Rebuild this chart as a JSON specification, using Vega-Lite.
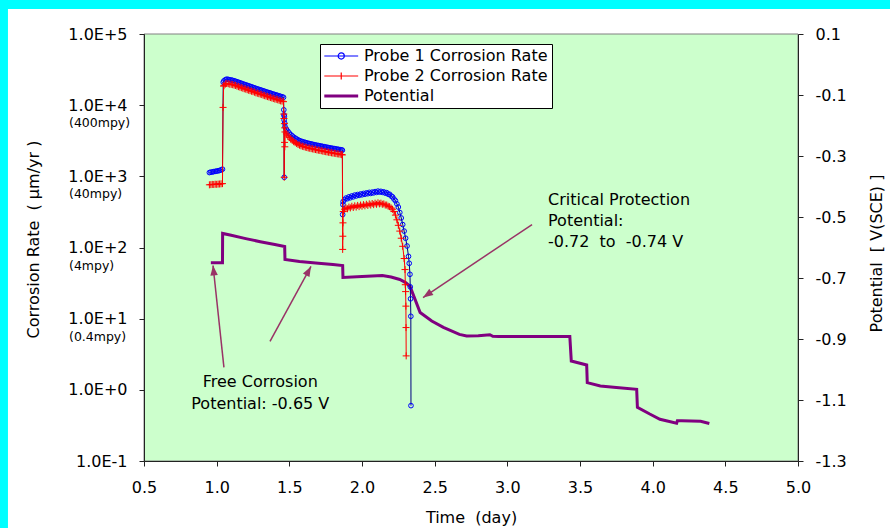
{
  "$schema": "https://vega.github.io/schema/vega-lite/v6.json",
  "width": 654,
  "height": 427,
  "autosize": "none",
  "padding": {"left": 144, "top": 34, "right": 92, "bottom": 67},
  "background": "#00ffff",
  "datasets": {
    "p1": [
      {"day":0.95,"rate":1130},{"day":0.96,"rate":1145},{"day":0.97,"rate":1150},{"day":0.98,"rate":1165},{"day":0.99,"rate":1175},{"day":1.00,"rate":1185},{"day":1.01,"rate":1195},{"day":1.02,"rate":1210},{"day":1.03,"rate":1230},{"day":1.04,"rate":1260},
      {"day":1.045,"rate":21000},{"day":1.05,"rate":22000},{"day":1.06,"rate":22800},{"day":1.07,"rate":23200},{"day":1.08,"rate":23000},{"day":1.09,"rate":22700},{"day":1.10,"rate":22600},{"day":1.11,"rate":22300},{"day":1.12,"rate":22000},{"day":1.13,"rate":21700},{"day":1.14,"rate":21300},{"day":1.15,"rate":21000},{"day":1.16,"rate":20600},{"day":1.17,"rate":20300},{"day":1.18,"rate":19900},{"day":1.19,"rate":19600},{"day":1.20,"rate":19300},{"day":1.21,"rate":19000},{"day":1.22,"rate":18700},{"day":1.23,"rate":18400},{"day":1.24,"rate":18100},{"day":1.25,"rate":17800},{"day":1.26,"rate":17500},{"day":1.27,"rate":17200},{"day":1.28,"rate":16900},{"day":1.29,"rate":16700},{"day":1.30,"rate":16400},{"day":1.31,"rate":16200},{"day":1.32,"rate":15900},{"day":1.33,"rate":15700},{"day":1.34,"rate":15400},{"day":1.35,"rate":15200},{"day":1.36,"rate":15000},{"day":1.37,"rate":14800},{"day":1.38,"rate":14500},{"day":1.39,"rate":14300},{"day":1.40,"rate":14100},{"day":1.41,"rate":13900},{"day":1.42,"rate":13700},{"day":1.43,"rate":13500},{"day":1.44,"rate":13300},{"day":1.45,"rate":13100},{"day":1.46,"rate":12900},
      {"day":1.462,"rate":8600},{"day":1.463,"rate":7300},{"day":1.464,"rate":6200},{"day":1.465,"rate":970},{"day":1.466,"rate":7000},{"day":1.468,"rate":5600},
      {"day":1.47,"rate":5000},{"day":1.48,"rate":4600},{"day":1.49,"rate":4300},{"day":1.50,"rate":4050},{"day":1.51,"rate":3850},{"day":1.52,"rate":3700},{"day":1.53,"rate":3550},{"day":1.54,"rate":3450},{"day":1.55,"rate":3350},{"day":1.56,"rate":3250},{"day":1.57,"rate":3180},{"day":1.58,"rate":3120},{"day":1.59,"rate":3070},{"day":1.60,"rate":3030},{"day":1.61,"rate":2990},{"day":1.62,"rate":2950},{"day":1.63,"rate":2910},{"day":1.64,"rate":2880},{"day":1.65,"rate":2850},{"day":1.66,"rate":2820},{"day":1.67,"rate":2790},{"day":1.68,"rate":2760},{"day":1.69,"rate":2730},{"day":1.70,"rate":2710},{"day":1.71,"rate":2680},{"day":1.72,"rate":2660},{"day":1.73,"rate":2630},{"day":1.74,"rate":2610},{"day":1.75,"rate":2580},{"day":1.76,"rate":2560},{"day":1.77,"rate":2530},{"day":1.78,"rate":2510},{"day":1.79,"rate":2490},{"day":1.80,"rate":2470},{"day":1.81,"rate":2450},{"day":1.82,"rate":2430},{"day":1.83,"rate":2410},{"day":1.84,"rate":2390},{"day":1.85,"rate":2370},{"day":1.86,"rate":2350},{"day":1.865,"rate":2330},
      {"day":1.867,"rate":290},{"day":1.869,"rate":400},
      {"day":1.87,"rate":440},{"day":1.88,"rate":470},{"day":1.89,"rate":495},{"day":1.90,"rate":485},{"day":1.91,"rate":515},{"day":1.92,"rate":500},{"day":1.93,"rate":530},{"day":1.94,"rate":515},{"day":1.95,"rate":545},{"day":1.96,"rate":530},{"day":1.97,"rate":555},{"day":1.98,"rate":540},{"day":1.99,"rate":565},{"day":2.00,"rate":550},{"day":2.01,"rate":575},{"day":2.02,"rate":560},{"day":2.03,"rate":585},{"day":2.04,"rate":570},{"day":2.05,"rate":595},{"day":2.06,"rate":575},{"day":2.07,"rate":600},{"day":2.08,"rate":585},{"day":2.09,"rate":610},{"day":2.10,"rate":595},{"day":2.11,"rate":620},{"day":2.12,"rate":600},{"day":2.13,"rate":615},{"day":2.14,"rate":595},{"day":2.15,"rate":605},{"day":2.16,"rate":580},{"day":2.17,"rate":590},{"day":2.18,"rate":560},{"day":2.19,"rate":560},{"day":2.20,"rate":530},{"day":2.21,"rate":515},{"day":2.22,"rate":480},{"day":2.23,"rate":455},{"day":2.24,"rate":410},{"day":2.25,"rate":370},{"day":2.26,"rate":310},{"day":2.27,"rate":260},{"day":2.28,"rate":210},{"day":2.29,"rate":170},{"day":2.30,"rate":135},{"day":2.31,"rate":105},{"day":2.32,"rate":75},{"day":2.325,"rate":60},{"day":2.33,"rate":42},{"day":2.332,"rate":28},{"day":2.334,"rate":19},{"day":2.336,"rate":10.8},{"day":2.337,"rate":0.6}
    ],
    "p2": [
      {"day":0.95,"rate":760},{"day":0.96,"rate":765},{"day":0.97,"rate":770},{"day":0.98,"rate":768},{"day":0.99,"rate":775},{"day":1.00,"rate":772},{"day":1.01,"rate":778},{"day":1.02,"rate":780},{"day":1.03,"rate":785},{"day":1.04,"rate":790},
      {"day":1.044,"rate":9300},{"day":1.048,"rate":18500},{"day":1.05,"rate":19000},{"day":1.06,"rate":19800},{"day":1.07,"rate":20200},{"day":1.08,"rate":20000},{"day":1.09,"rate":19700},{"day":1.10,"rate":19600},{"day":1.11,"rate":19400},{"day":1.12,"rate":19100},{"day":1.13,"rate":18900},{"day":1.14,"rate":18500},{"day":1.15,"rate":18200},{"day":1.16,"rate":17900},{"day":1.17,"rate":17600},{"day":1.18,"rate":17300},{"day":1.19,"rate":17000},{"day":1.20,"rate":16800},{"day":1.21,"rate":16500},{"day":1.22,"rate":16200},{"day":1.23,"rate":16000},{"day":1.24,"rate":15700},{"day":1.25,"rate":15500},{"day":1.26,"rate":15200},{"day":1.27,"rate":14900},{"day":1.28,"rate":14700},{"day":1.29,"rate":14500},{"day":1.30,"rate":14300},{"day":1.31,"rate":14100},{"day":1.32,"rate":13800},{"day":1.33,"rate":13600},{"day":1.34,"rate":13400},{"day":1.35,"rate":13200},{"day":1.36,"rate":13000},{"day":1.37,"rate":12800},{"day":1.38,"rate":12600},{"day":1.39,"rate":12400},{"day":1.40,"rate":12200},{"day":1.41,"rate":12100},{"day":1.42,"rate":11900},{"day":1.43,"rate":11700},{"day":1.44,"rate":11500},{"day":1.45,"rate":11400},{"day":1.46,"rate":11200},
      {"day":1.462,"rate":7500},{"day":1.463,"rate":6500},{"day":1.465,"rate":970},{"day":1.466,"rate":5500},{"day":1.467,"rate":3000},{"day":1.468,"rate":4800},{"day":1.469,"rate":2600},{"day":1.47,"rate":4200},
      {"day":1.48,"rate":3950},{"day":1.49,"rate":3700},{"day":1.50,"rate":3500},{"day":1.51,"rate":3320},{"day":1.52,"rate":3200},{"day":1.53,"rate":3070},{"day":1.54,"rate":2980},{"day":1.55,"rate":2890},{"day":1.56,"rate":2800},{"day":1.57,"rate":2740},{"day":1.58,"rate":2690},{"day":1.59,"rate":2640},{"day":1.60,"rate":2610},{"day":1.61,"rate":2570},{"day":1.62,"rate":2540},{"day":1.63,"rate":2500},{"day":1.64,"rate":2480},{"day":1.65,"rate":2450},{"day":1.66,"rate":2430},{"day":1.67,"rate":2400},{"day":1.68,"rate":2380},{"day":1.69,"rate":2350},{"day":1.70,"rate":2330},{"day":1.71,"rate":2310},{"day":1.72,"rate":2290},{"day":1.73,"rate":2260},{"day":1.74,"rate":2240},{"day":1.75,"rate":2220},{"day":1.76,"rate":2200},{"day":1.77,"rate":2180},{"day":1.78,"rate":2160},{"day":1.79,"rate":2140},{"day":1.80,"rate":2120},{"day":1.81,"rate":2110},{"day":1.82,"rate":2090},{"day":1.83,"rate":2070},{"day":1.84,"rate":2060},{"day":1.85,"rate":2040},{"day":1.86,"rate":2020},{"day":1.865,"rate":2000},
      {"day":1.867,"rate":94},{"day":1.868,"rate":144},{"day":1.869,"rate":222},{"day":1.871,"rate":320},
      {"day":1.88,"rate":345},{"day":1.89,"rate":360},{"day":1.90,"rate":350},{"day":1.91,"rate":370},{"day":1.92,"rate":360},{"day":1.93,"rate":380},{"day":1.94,"rate":365},{"day":1.95,"rate":385},{"day":1.96,"rate":370},{"day":1.97,"rate":390},{"day":1.98,"rate":375},{"day":1.99,"rate":395},{"day":2.00,"rate":380},{"day":2.01,"rate":400},{"day":2.02,"rate":385},{"day":2.03,"rate":405},{"day":2.04,"rate":390},{"day":2.05,"rate":410},{"day":2.06,"rate":395},{"day":2.07,"rate":415},{"day":2.08,"rate":400},{"day":2.09,"rate":420},{"day":2.10,"rate":405},{"day":2.11,"rate":425},{"day":2.12,"rate":410},{"day":2.13,"rate":420},{"day":2.14,"rate":405},{"day":2.15,"rate":410},{"day":2.16,"rate":395},{"day":2.17,"rate":395},{"day":2.18,"rate":380},{"day":2.19,"rate":375},{"day":2.20,"rate":360},{"day":2.21,"rate":345},{"day":2.22,"rate":320},{"day":2.23,"rate":285},{"day":2.24,"rate":245},{"day":2.25,"rate":205},{"day":2.26,"rate":170},{"day":2.27,"rate":135},{"day":2.28,"rate":104},{"day":2.29,"rate":70},{"day":2.296,"rate":49},{"day":2.298,"rate":30},{"day":2.300,"rate":24},{"day":2.302,"rate":15},{"day":2.303,"rate":7.5},{"day":2.304,"rate":3.0}
    ],
    "pot": [
      {"day":0.96,"v":-0.650},{"day":1.04,"v":-0.650},{"day":1.041,"v":-0.554},{"day":1.10,"v":-0.560},{"day":1.20,"v":-0.571},{"day":1.30,"v":-0.581},{"day":1.40,"v":-0.590},{"day":1.468,"v":-0.597},{"day":1.47,"v":-0.639},{"day":1.57,"v":-0.646},{"day":1.70,"v":-0.652},{"day":1.80,"v":-0.656},{"day":1.867,"v":-0.659},{"day":1.869,"v":-0.698},{"day":2.00,"v":-0.695},{"day":2.14,"v":-0.692},{"day":2.20,"v":-0.697},{"day":2.26,"v":-0.705},{"day":2.30,"v":-0.715},{"day":2.33,"v":-0.727},{"day":2.365,"v":-0.770},{"day":2.40,"v":-0.813},{"day":2.48,"v":-0.841},{"day":2.56,"v":-0.862},{"day":2.67,"v":-0.885},{"day":2.72,"v":-0.890},{"day":2.80,"v":-0.889},{"day":2.88,"v":-0.886},{"day":2.90,"v":-0.891},{"day":2.94,"v":-0.892},{"day":3.43,"v":-0.892},{"day":3.44,"v":-0.972},{"day":3.546,"v":-0.985},{"day":3.55,"v":-1.043},{"day":3.64,"v":-1.054},{"day":3.75,"v":-1.059},{"day":3.89,"v":-1.065},{"day":3.895,"v":-1.124},{"day":3.98,"v":-1.146},{"day":4.05,"v":-1.163},{"day":4.165,"v":-1.176},{"day":4.17,"v":-1.168},{"day":4.20,"v":-1.168},{"day":4.33,"v":-1.170},{"day":4.39,"v":-1.177}
    ],
    "mpy": [
      {"rate":10000,"label":"(400mpy)"},{"rate":1000,"label":"(40mpy)"},{"rate":100,"label":"(4mpy)"},{"rate":10,"label":"(0.4mpy)"}
    ],
    "notes": [
      {"id":"free","day":1.30,"v":-1.015,"label":"Free Corrosion\nPotential: -0.65 V"},
      {"id":"crit","day":3.28,"v":-0.418,"label":"Critical Protection\n\u00a0Potential:\n-0.72\u00a0 to\u00a0 -0.74 V"}
    ],
    "arrows": [
      {"id":"a1","from_day":1.050,"from_v":-0.993,"day":0.975,"v":-0.659},
      {"id":"a2","from_day":1.367,"from_v":-0.908,"day":1.649,"v":-0.662},
      {"id":"a3","from_day":3.170,"from_v":-0.525,"day":2.420,"v":-0.764}
    ],
    "panel": [
      {"name":"plot area"}
    ]
  },
  "layer": [
    {
      "layer": [
        {"data": {"name": "panel"}, "mark": {"type": "rect", "fill": "#ffffff"},
          "encoding": {
            "x": {"datum": -0.436, "type": "quantitative", "scale": {"domain": [0.5, 5], "nice": false, "zero": false}},
            "x2": {"datum": 6},
            "y": {"datum": 0.182, "type": "quantitative", "scale": {"domain": [-1.3, 0.1], "nice": false, "zero": false}},
            "y2": {"datum": -1.8}}},
        {"data": {"name": "panel"}, "mark": {"type": "rect", "fill": "#ccffcc", "stroke": "#808080", "strokeWidth": 1},
          "encoding": {
            "x": {"datum": 0.5, "type": "quantitative", "scale": {"domain": [0.5, 5], "nice": false, "zero": false}},
            "x2": {"datum": 5},
            "y": {"datum": 0.1, "type": "quantitative", "scale": {"domain": [-1.3, 0.1], "nice": false, "zero": false}},
            "y2": {"datum": -1.3}}},
        {"data": {"name": "pot"}, "mark": {"type": "line", "strokeWidth": 3},
          "encoding": {
            "x": {"field": "day", "type": "quantitative", "scale": {"domain": [0.5, 5], "nice": false, "zero": false},
              "axis": {"orient": "bottom", "zindex": 2, "values": [0.5,1,1.5,2,2.5,3,3.5,4,4.5,5], "labelExpr": "format(datum.value, '.1f')", "title": "Time\u00a0 (day)", "titleY": 56, "titleBaseline": "middle", "labelPadding": 13}},
            "y": {"field": "v", "type": "quantitative", "scale": {"domain": [-1.3, 0.1], "nice": false, "zero": false},
              "axis": {"orient": "right", "zindex": 2, "values": [-1.3,-1.1,-0.9,-0.7,-0.5,-0.3,-0.1,0.1], "labelExpr": "replace(format(datum.value, '.1f'), '\u2212', '-')", "labelPadding": 12, "title": "Potential\u00a0 [ V(SCE) ]", "titleX": 78, "titleY": 219, "titleAngle": 270, "titleBaseline": "middle", "titleAlign": "center"}},
            "color": {"datum": "Potential", "type": "nominal",
            "scale": {"domain": ["Probe 1 Corrosion Rate", "Probe 2 Corrosion Rate", "Potential"], "range": ["#0000ff", "#ff0000", "#800080"]},
            "legend": {"title": null, "orient": "none", "legendX": 176, "legendY": 10, "zindex": 3, "fillColor": "#ffffff", "strokeColor": "#000000", "padding": 4, "symbolSize": 237, "labelOffset": 24, "labelFont": "DejaVu Sans", "labelFontSize": 16, "labelColor": "#000000", "labelLimit": 400, "rowPadding": 4,
              "encode": {"symbols": {"update": {
                "shape": {"signal": "datum.value === 'Potential' ? 'M-1,0H3.4' : (datum.value === 'Probe 1 Corrosion Rate' ? 'M-1,0H3.4M1.6,0A0.4,0.4,0,1,1,0.8,0A0.4,0.4,0,1,1,1.6,0' : 'M-1,0H3.4M1.2,-0.45V0.45')"},
                "strokeWidth": {"signal": "datum.value === 'Potential' ? 3 : 1.2"},
                "fill": {"value": "transparent"},
                "stroke": {"signal": "datum.value === 'Potential' ? '#800080' : (datum.value === 'Probe 1 Corrosion Rate' ? '#0000ff' : '#ff0000')"}
              }}}
            }}}},
        {"data": {"name": "arrows"}, "mark": {"type": "rule", "color": "#993366", "strokeWidth": 1.5},
          "encoding": {
            "x": {"field": "from_day", "type": "quantitative", "scale": {"domain": [0.5, 5], "nice": false, "zero": false}},
            "y": {"field": "from_v", "type": "quantitative", "scale": {"domain": [-1.3, 0.1], "nice": false, "zero": false}},
            "x2": {"field": "day"}, "y2": {"field": "v"}}},
        {"data": {"name": "arrows"}, "transform": [{"filter": "datum.id === 'a1'"}], "mark": {"type": "point", "shape": "M0,0L0.6,1.6L-0.6,1.6Z", "filled": true, "color": "#993366", "opacity": 1, "size": 156, "angle": 353.8},
          "encoding": {
            "x": {"field": "day", "type": "quantitative", "scale": {"domain": [0.5, 5], "nice": false, "zero": false}},
            "y": {"field": "v", "type": "quantitative", "scale": {"domain": [-1.3, 0.1], "nice": false, "zero": false}}}},
        {"data": {"name": "arrows"}, "transform": [{"filter": "datum.id === 'a2'"}], "mark": {"type": "point", "shape": "M0,0L0.6,1.6L-0.6,1.6Z", "filled": true, "color": "#993366", "opacity": 1, "size": 156, "angle": 28.7},
          "encoding": {
            "x": {"field": "day", "type": "quantitative", "scale": {"domain": [0.5, 5], "nice": false, "zero": false}},
            "y": {"field": "v", "type": "quantitative", "scale": {"domain": [-1.3, 0.1], "nice": false, "zero": false}}}},
        {"data": {"name": "arrows"}, "transform": [{"filter": "datum.id === 'a3'"}], "mark": {"type": "point", "shape": "M0,0L0.6,1.6L-0.6,1.6Z", "filled": true, "color": "#993366", "opacity": 1, "size": 156, "angle": 236.2},
          "encoding": {
            "x": {"field": "day", "type": "quantitative", "scale": {"domain": [0.5, 5], "nice": false, "zero": false}},
            "y": {"field": "v", "type": "quantitative", "scale": {"domain": [-1.3, 0.1], "nice": false, "zero": false}}}},
        {"data": {"name": "notes"}, "transform": [{"filter": "datum.id === 'free'"}], "mark": {"type": "text", "align": "center", "baseline": "top", "lineBreak": "\n", "lineHeight": 22, "fontSize": 16, "font": "DejaVu Sans", "color": "#000000"},
          "encoding": {
            "x": {"field": "day", "type": "quantitative", "scale": {"domain": [0.5, 5], "nice": false, "zero": false}},
            "y": {"field": "v", "type": "quantitative", "scale": {"domain": [-1.3, 0.1], "nice": false, "zero": false}},
            "text": {"field": "label"}}},
        {"data": {"name": "notes"}, "transform": [{"filter": "datum.id === 'crit'"}], "mark": {"type": "text", "align": "left", "baseline": "top", "lineBreak": "\n", "lineHeight": 21, "fontSize": 16, "font": "DejaVu Sans", "color": "#000000"},
          "encoding": {
            "x": {"field": "day", "type": "quantitative", "scale": {"domain": [0.5, 5], "nice": false, "zero": false}},
            "y": {"field": "v", "type": "quantitative", "scale": {"domain": [-1.3, 0.1], "nice": false, "zero": false}},
            "text": {"field": "label"}}}
      ]
    },
    {
      "layer": [
        {"data": {"name": "p1"}, "mark": {"type": "line", "color": "#000080", "strokeWidth": 1},
          "encoding": {
            "x": {"field": "day", "type": "quantitative", "scale": {"domain": [0.5, 5], "nice": false, "zero": false}},
            "y": {"field": "rate", "type": "quantitative", "scale": {"type": "log", "domain": [0.1, 100000], "nice": false},
              "axis": {"orient": "left", "zindex": 2, "values": [0.1,1,10,100,1000,10000,100000], "labelExpr": "'1.0E' + (datum.value >= 1 ? '+' : '-') + abs(round(log(datum.value) / LN10))", "labelPadding": 12, "title": "Corrosion Rate\u00a0 (\u00a0\u00b5m/yr )", "titleX": -111, "titleY": 205, "titleAngle": 270, "titleBaseline": "middle", "titleAlign": "center"}}}},
        {"data": {"name": "p1"}, "mark": {"type": "point", "shape": "circle", "filled": false, "size": 22, "strokeWidth": 1, "opacity": 1},
          "encoding": {
            "x": {"field": "day", "type": "quantitative", "scale": {"domain": [0.5, 5], "nice": false, "zero": false}},
            "y": {"field": "rate", "type": "quantitative", "scale": {"type": "log", "domain": [0.1, 100000], "nice": false}},
            "color": {"datum": "Probe 1 Corrosion Rate", "type": "nominal", "scale": {"domain": ["Probe 1 Corrosion Rate", "Probe 2 Corrosion Rate", "Potential"], "range": ["#0000ff", "#ff0000", "#800080"]}}}},
        {"data": {"name": "p2"}, "mark": {"type": "line", "color": "#ff0000", "strokeWidth": 1},
          "encoding": {
            "x": {"field": "day", "type": "quantitative", "scale": {"domain": [0.5, 5], "nice": false, "zero": false}},
            "y": {"field": "rate", "type": "quantitative", "scale": {"type": "log", "domain": [0.1, 100000], "nice": false}}}},
        {"data": {"name": "p2"}, "mark": {"type": "point", "shape": "M-1,0H1M0,-1V1", "filled": false, "size": 49, "strokeWidth": 1, "opacity": 1},
          "encoding": {
            "x": {"field": "day", "type": "quantitative", "scale": {"domain": [0.5, 5], "nice": false, "zero": false}},
            "y": {"field": "rate", "type": "quantitative", "scale": {"type": "log", "domain": [0.1, 100000], "nice": false}},
            "color": {"datum": "Probe 2 Corrosion Rate", "type": "nominal", "scale": {"domain": ["Probe 1 Corrosion Rate", "Probe 2 Corrosion Rate", "Potential"], "range": ["#0000ff", "#ff0000", "#800080"]}}}},
        {"data": {"name": "mpy"}, "mark": {"type": "text", "align": "left", "baseline": "middle", "dx": -75, "dy": 18, "fontSize": 12.5, "font": "DejaVu Sans", "color": "#000000"},
          "encoding": {
            "x": {"datum": 0.5, "type": "quantitative", "scale": {"domain": [0.5, 5], "nice": false, "zero": false}},
            "y": {"field": "rate", "type": "quantitative", "scale": {"type": "log", "domain": [0.1, 100000], "nice": false}},
            "text": {"field": "label"}}}
      ]
    }
  ],
  "resolve": {"scale": {"y": "independent"}},
  "config": {
    "view": {"stroke": null},
    "font": "DejaVu Sans",
    "axis": {"labelFont": "DejaVu Sans", "labelFontSize": 16, "labelColor": "#000000", "titleFont": "DejaVu Sans", "titleFontSize": 16, "titleFontWeight": "normal", "titleColor": "#000000", "domainColor": "#222222", "tickColor": "#222222", "tickSize": 5, "grid": false, "zindex": 2, "labelFlush": false, "labelOverlap": false}
  }
}
